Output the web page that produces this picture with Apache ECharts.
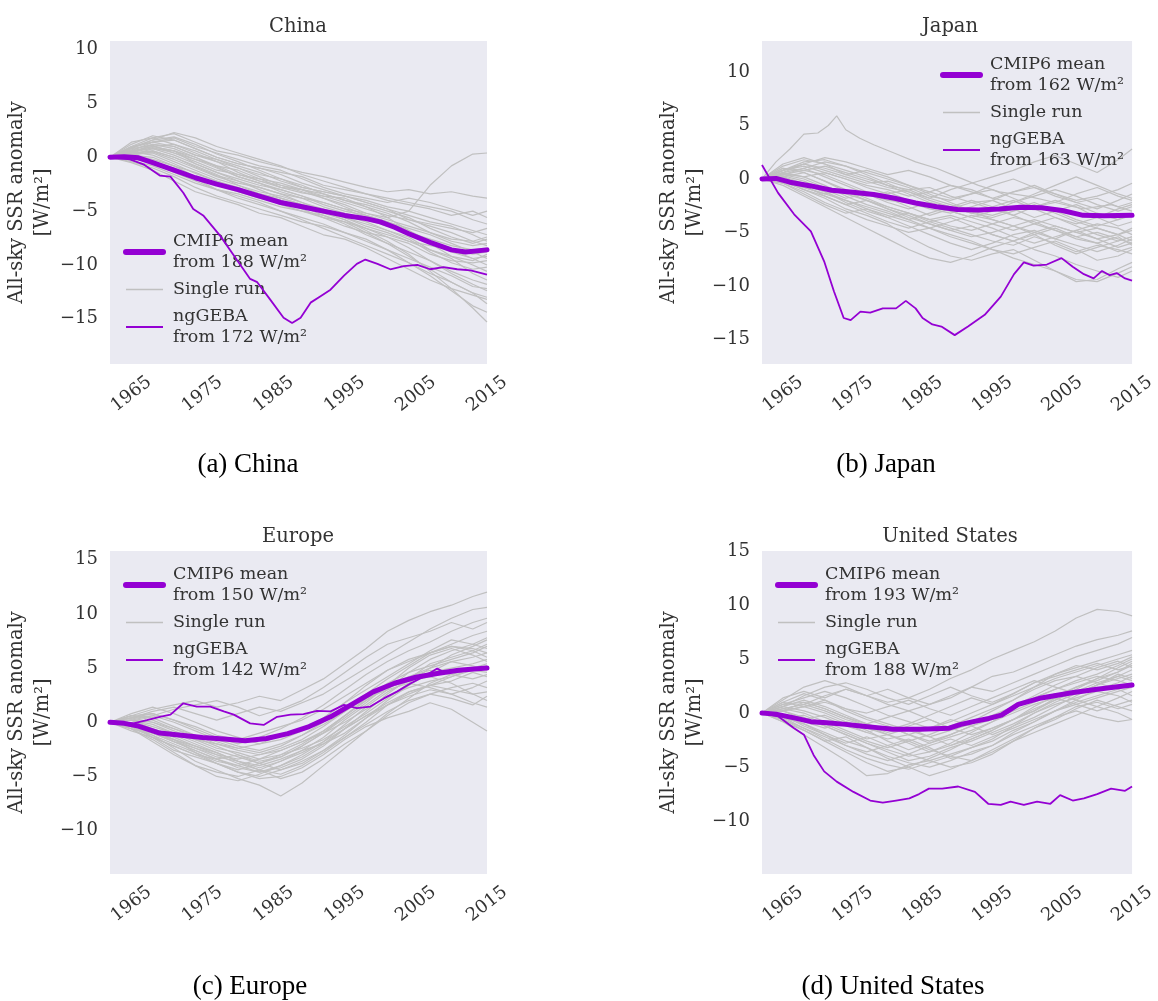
<!DOCTYPE html>
<html><head><meta charset="utf-8">
<script src="https://cdn.jsdelivr.net/npm/echarts@6/dist/echarts.min.js"></script>
<style>html,body{margin:0;padding:0;background:#fff}#c{width:1158px;height:1001px}</style>
</head><body><div id="c"></div>
<script>
// ---------------- DATA ----------------
const xTicks = [1965, 1975, 1985, 1995, 2005, 2015];
const runYears = [1962,1965,1968,1971,1974,1977,1980,1983,1986,1989,1992,1995,1998,2001,2004,2007,2010,2013,2015];

const chinaRuns = [
 [0,0.5,1.0,0.6,-0.6,-1.4,-2.0,-2.6,-3.0,-3.6,-4.2,-4.8,-5.2,-5.6,-5.0,-2.6,-0.8,0.3,0.4],
 [0,1.0,1.8,2.2,1.4,0.6,0.2,-0.4,-0.9,-1.4,-1.8,-2.3,-2.8,-3.2,-3.0,-3.4,-3.2,-3.6,-3.8],
 [0,0.6,1.4,1.6,0.8,0.0,-0.6,-1.0,-1.4,-1.8,-2.6,-3.0,-3.4,-4.0,-4.4,-4.8,-5.4,-5.0,-5.6],
 [0,0.4,0.9,0.4,-0.4,-1.2,-1.6,-2.0,-2.8,-3.3,-3.6,-4.2,-4.8,-5.4,-5.8,-6.2,-6.6,-7.0,-6.6],
 [0,0.2,0.5,-0.2,-1.0,-1.8,-2.4,-2.8,-3.4,-3.8,-4.6,-5.2,-5.8,-6.4,-7.0,-7.6,-8.2,-8.6,-8.4],
 [0,-0.3,-0.8,-1.6,-2.4,-3.0,-3.4,-4.0,-4.6,-5.0,-5.6,-6.0,-6.6,-7.4,-8.4,-9.6,-10.6,-11.4,-11.8],
 [0,0.9,1.6,1.9,1.2,0.3,-0.4,-1.2,-2.0,-2.6,-3.4,-4.0,-4.4,-5.0,-5.6,-6.6,-7.4,-8.0,-7.6],
 [0,0.5,0.2,-0.6,-1.5,-2.2,-2.8,-3.6,-4.4,-5.0,-5.4,-6.0,-7.0,-8.0,-9.2,-10.4,-11.6,-12.6,-13.0],
 [0,-0.2,-0.4,-1.0,-2.0,-3.0,-3.8,-4.4,-5.0,-5.6,-6.2,-7.0,-7.6,-8.6,-9.8,-11.0,-12.4,-13.8,-14.4],
 [0,0.3,0.6,0.0,-0.8,-1.6,-2.6,-3.4,-4.0,-4.6,-5.2,-5.8,-6.8,-7.8,-9.0,-10.6,-12.2,-14.0,-15.3],
 [0,0.7,1.2,0.8,0.0,-0.9,-1.8,-2.4,-3.2,-3.8,-4.2,-4.8,-5.6,-6.2,-7.0,-7.8,-8.8,-9.4,-9.2],
 [0,0.4,0.6,0.0,-0.9,-1.7,-2.2,-2.8,-3.4,-4.2,-4.8,-5.6,-6.2,-6.8,-7.6,-8.8,-9.8,-10.4,-10.2],
 [0,0.1,-0.3,-1.2,-2.0,-2.6,-3.2,-3.8,-4.2,-4.6,-5.4,-6.2,-7.2,-8.0,-8.8,-9.6,-10.8,-11.8,-12.4],
 [0,1.2,2.0,1.6,0.8,0.0,-0.6,-1.0,-1.6,-2.4,-3.0,-3.6,-4.0,-4.6,-5.0,-5.6,-6.2,-6.8,-7.2],
 [0,0.8,1.1,0.4,-0.2,-0.8,-1.2,-2.0,-2.4,-3.0,-3.6,-3.8,-4.6,-5.2,-6.0,-7.0,-7.8,-8.2,-8.0],
 [0,0.2,-0.2,-0.8,-1.4,-2.2,-3.0,-3.4,-4.0,-4.8,-5.6,-6.4,-7.0,-7.4,-8.0,-9.0,-9.6,-9.8,-9.6],
 [0,0.6,1.0,1.2,0.4,-0.4,-1.0,-1.8,-2.6,-3.2,-3.8,-4.6,-5.4,-6.0,-6.8,-8.0,-9.2,-10.0,-10.6],
 [0,-0.4,-1.0,-1.8,-2.8,-3.6,-4.2,-4.8,-5.4,-6.0,-6.4,-7.0,-7.8,-8.6,-9.4,-10.2,-11.0,-12.0,-12.2],
 [0,0.9,1.4,1.0,0.2,-0.4,-1.4,-2.2,-2.8,-3.0,-3.4,-4.0,-4.6,-5.6,-6.8,-7.8,-8.6,-9.0,-8.8],
 [0,0.3,0.4,-0.4,-1.2,-2.0,-2.6,-3.2,-3.6,-4.2,-5.0,-5.8,-6.6,-7.2,-7.8,-8.2,-8.6,-9.4,-10.0],
 [0,1.4,1.8,1.2,0.6,-0.2,-0.8,-1.4,-2.2,-2.8,-3.2,-3.6,-4.2,-4.8,-5.8,-6.4,-7.0,-7.8,-8.2],
 [0,0.2,0.8,0.6,-0.2,-1.0,-1.8,-2.4,-3.0,-3.6,-4.4,-5.0,-5.4,-6.0,-6.6,-7.2,-8.0,-8.8,-9.4],
 [0,-0.1,-0.5,-1.4,-2.2,-3.0,-3.6,-4.2,-5.0,-5.8,-6.6,-7.4,-8.2,-9.0,-9.8,-10.8,-11.6,-12.6,-13.6],
 [0,0.5,1.0,0.6,0.0,-0.8,-1.6,-2.2,-2.6,-3.0,-3.8,-4.4,-5.2,-5.8,-6.4,-7.0,-7.6,-7.8,-7.4],
 [0,0.8,1.6,2.3,1.8,1.0,0.4,-0.2,-0.8,-1.6,-2.2,-2.8,-3.4,-3.8,-4.2,-4.6,-5.0,-5.8,-6.2],
 [0,-0.5,-1.2,-2.2,-3.2,-3.8,-4.4,-5.2,-5.6,-6.4,-7.2,-7.6,-8.4,-9.4,-10.4,-11.4,-12.2,-12.8,-13.2],
 [0,0.4,1.2,1.0,0.2,-0.2,-1.0,-1.6,-2.0,-2.8,-3.2,-3.6,-4.2,-4.8,-5.4,-6.0,-6.4,-7.2,-7.8],
 [0,0.2,0.0,-0.8,-1.8,-2.4,-3.0,-3.4,-3.8,-4.4,-4.8,-5.4,-6.0,-6.8,-7.4,-8.6,-9.2,-9.6,-9.0],
 [0,1.0,1.4,1.8,1.0,0.4,-0.2,-0.8,-1.2,-2.0,-2.8,-3.4,-3.8,-4.2,-3.8,-4.2,-4.8,-5.4,-5.0],
 [0,0.6,0.8,0.2,-0.6,-1.4,-2.2,-3.0,-3.8,-4.4,-5.0,-5.6,-6.4,-7.0,-7.8,-8.6,-9.4,-10.8,-11.4]
];
const chinaMeanYears = [1962,1964,1966,1968,1971,1974,1977,1980,1983,1986,1989,1992,1995,1998,2000,2002,2004,2007,2010,2012,2015];
const chinaMeanValues = [0,0.05,-0.05,-0.5,-1.2,-1.9,-2.5,-3.0,-3.6,-4.2,-4.6,-5.0,-5.4,-5.7,-6.0,-6.5,-7.1,-7.9,-8.6,-8.8,-8.6];
const chinaGebaYears = [1962,1964.8,1966.7,1969,1970.5,1972.3,1973.7,1975.1,1977.5,1979.8,1981.7,1982.7,1984.5,1986.4,1987.6,1988.8,1990.2,1991.6,1993,1994.9,1996.7,1997.9,1999.6,2001.4,2003.3,2005.2,2007,2008.9,2010.8,2012.7,2015];
const chinaGebaValues = [0,-0.2,-0.65,-1.7,-1.8,-3.3,-4.8,-5.4,-7.3,-9.5,-11.3,-11.6,-13.2,-14.9,-15.4,-14.9,-13.5,-12.9,-12.3,-11.0,-9.9,-9.5,-9.9,-10.4,-10.1,-10.0,-10.4,-10.2,-10.4,-10.5,-10.9];

const japanRuns = [
 [0,0.8,1.4,1.0,0.4,-0.2,-0.8,-1.2,-1.8,-1.0,-0.4,0.2,0.8,1.6,2.2,1.4,0.6,1.8,2.8],
 [0,1.2,1.8,1.4,0.8,0.2,-0.6,-1.0,-0.8,-1.6,-2.2,-2.0,-1.2,-0.8,-1.4,-2.0,-1.6,-1.0,-0.4],
 [0,0.4,0.0,-0.8,-1.4,-2.0,-2.6,-3.2,-3.8,-4.4,-4.8,-4.2,-3.6,-4.0,-4.8,-5.4,-5.0,-5.6,-6.0],
 [0,-0.6,-1.6,-2.6,-3.6,-4.6,-5.6,-6.6,-7.4,-7.8,-7.2,-6.4,-5.8,-5.0,-4.4,-5.0,-5.6,-5.2,-4.8],
 [0,-0.2,-1.0,-1.8,-2.8,-3.4,-4.2,-5.4,-6.4,-7.2,-7.6,-7.0,-6.6,-7.6,-8.6,-9.4,-9.6,-8.8,-8.2],
 [0,0.6,1.0,0.2,-0.6,-1.4,-2.0,-2.2,-2.8,-3.2,-2.6,-2.0,-2.8,-3.6,-3.0,-2.4,-3.2,-3.8,-3.4],
 [0,1.0,0.6,-0.2,-1.0,-1.6,-1.2,-2.0,-2.6,-3.0,-3.6,-4.2,-4.8,-4.2,-3.6,-4.4,-5.2,-5.8,-5.4],
 [0,0.2,-0.6,-1.2,-2.2,-3.0,-3.6,-3.2,-4.0,-4.6,-5.2,-5.8,-6.2,-5.4,-6.0,-6.8,-6.2,-6.6,-7.0],
 [0,0.8,1.6,1.8,1.2,0.6,0.0,-0.6,-1.2,-1.8,-1.4,-0.6,0.0,-0.8,-1.6,-2.2,-2.8,-2.0,-1.4],
 [0,-0.4,-1.2,-2.2,-3.0,-3.8,-4.4,-5.0,-4.6,-4.0,-3.4,-3.8,-4.4,-5.0,-5.6,-4.8,-4.2,-4.6,-5.2],
 [0,0.4,0.8,0.4,-0.4,-1.2,-1.8,-2.6,-3.4,-2.8,-2.2,-2.8,-3.4,-2.6,-2.0,-2.6,-3.6,-4.4,-4.0],
 [0,0.6,0.2,-0.6,-1.6,-2.4,-3.0,-3.8,-4.6,-5.4,-6.0,-6.6,-7.0,-6.4,-5.8,-6.6,-7.6,-7.2,-6.6],
 [0,1.4,2.0,1.4,0.4,0.8,0.2,-0.6,-1.4,-2.2,-3.0,-3.4,-2.8,-2.2,-3.0,-3.8,-4.4,-3.8,-3.2],
 [0,-0.2,-0.8,-1.4,-1.0,-1.8,-2.6,-3.2,-3.8,-3.4,-4.0,-4.6,-5.4,-6.0,-5.4,-4.8,-5.6,-6.4,-6.0],
 [0,0.3,-0.2,-1.0,-1.8,-1.4,-2.2,-2.8,-2.2,-2.6,-3.2,-2.6,-2.0,-2.8,-3.6,-4.2,-3.6,-2.8,-2.4],
 [0,0.8,1.2,0.6,0.0,-0.8,-1.4,-1.0,-1.8,-2.4,-3.0,-3.8,-4.4,-3.8,-4.4,-5.0,-4.6,-5.2,-5.8],
 [0,-0.4,-1.4,-2.4,-3.2,-2.8,-3.6,-4.4,-5.2,-6.0,-6.6,-6.0,-5.2,-4.8,-5.6,-6.2,-6.8,-6.2,-5.6],
 [0,0.6,1.4,2.0,1.6,1.0,0.4,0.8,0.2,-0.6,-1.2,-1.8,-1.2,-0.6,-1.4,-2.2,-1.8,-2.6,-2.2],
 [0,0.2,0.6,-0.2,-1.2,-2.0,-2.8,-3.6,-4.2,-4.8,-5.4,-5.0,-4.4,-5.2,-6.2,-7.0,-6.4,-5.8,-5.4],
 [0,0.5,0.2,0.6,0.0,-0.6,-1.0,-1.6,-1.2,-0.6,-1.0,-1.8,-2.2,-1.6,-1.0,-1.6,-2.4,-3.0,-2.6],
 [0,-0.2,-0.6,-1.6,-2.4,-3.2,-4.0,-4.6,-4.0,-3.6,-4.4,-5.2,-5.8,-6.6,-7.2,-8.0,-8.6,-9.2,-8.6],
 [0,0.4,1.0,1.6,1.2,0.4,-0.4,-1.2,-2.0,-2.6,-3.2,-3.6,-3.0,-2.4,-3.2,-4.0,-4.6,-5.2,-4.6],
 [0,-0.4,-0.8,-1.4,-2.0,-2.6,-3.2,-3.8,-3.2,-2.6,-2.0,-2.6,-3.4,-4.2,-4.8,-5.6,-6.0,-5.4,-6.2],
 [0,0.8,1.4,0.8,0.2,-0.4,-0.2,-0.8,-1.6,-2.0,-1.4,-1.0,-1.8,-2.6,-2.2,-1.4,-0.8,-1.6,-2.0],
 [0,0.2,-0.4,-1.2,-2.0,-2.8,-3.4,-4.0,-4.6,-5.2,-5.8,-6.6,-7.4,-8.0,-8.6,-9.6,-9.4,-8.4,-7.8],
 [0,1.0,0.8,1.2,0.6,0.0,-0.6,-1.4,-2.2,-3.0,-3.6,-3.0,-2.2,-1.4,-0.6,0.2,-0.6,-1.4,-1.8],
 [0,-0.2,-1.0,-1.6,-2.4,-2.0,-2.8,-3.4,-4.2,-4.8,-4.4,-5.2,-5.8,-5.2,-4.6,-5.4,-6.0,-6.8,-6.4]
];
// the one Japanese run that peaks near +6 in the early 1970s
const japanPeakRunYears = [1962,1964,1966,1968,1970,1971.5,1972.7,1974,1976,1978,1981,1984,1987,1990,1993,1996,2000,2004,2008,2012,2015];
const japanPeakRunValues = [0,1.6,2.8,4.2,4.3,5.0,5.9,4.6,3.8,3.2,2.4,1.6,1.0,0.2,-0.6,-1.2,-1.6,-2.2,-2.8,-2.4,-3.0];
const japanMeanYears = [1962,1964,1966,1969,1972,1975,1978,1981,1984,1987,1990,1993,1996,1999,2002,2005,2008,2011,2015];
const japanMeanValues = [0,0.05,-0.3,-0.65,-1.05,-1.25,-1.45,-1.8,-2.25,-2.6,-2.85,-2.9,-2.8,-2.65,-2.7,-2.95,-3.4,-3.45,-3.4];
const japanGebaYears = [1962,1964.3,1966.6,1969,1970.9,1972.3,1973.7,1974.7,1976.1,1977.5,1979.3,1981.2,1982.6,1984,1985,1986.4,1987.7,1989.6,1991.5,1993.9,1996.2,1998.1,1999.5,2000.9,2002.8,2004.9,2006.5,2008.1,2009.5,2010.7,2011.8,2012.8,2014,2015];
const japanGebaValues = [1.3,-1.3,-3.3,-4.9,-7.7,-10.5,-13.0,-13.2,-12.4,-12.5,-12.1,-12.1,-11.4,-12.1,-13.0,-13.6,-13.8,-14.6,-13.8,-12.7,-11.0,-8.9,-7.8,-8.1,-8.0,-7.4,-8.2,-8.9,-9.3,-8.6,-9.0,-8.8,-9.3,-9.5];

const europeRuns = [
 [0,0.6,1.2,1.6,2.0,1.4,1.8,2.4,2.0,3.0,4.0,5.4,6.8,8.4,9.4,10.2,10.8,11.6,12.0],
 [0,-0.4,-1.2,-2.4,-3.6,-4.4,-5.2,-5.8,-6.8,-5.6,-4.0,-2.4,-0.8,0.8,2.2,3.6,4.4,5.0,5.4],
 [0,0.2,-0.6,-1.4,-2.2,-3.0,-3.4,-3.0,-2.4,-1.6,-0.4,1.0,2.6,4.0,5.2,6.4,7.0,6.6,7.2],
 [0,-0.6,-1.6,-2.8,-4.0,-5.0,-5.4,-4.8,-4.0,-3.2,-2.0,-0.6,0.6,1.6,2.4,3.0,2.6,3.2,3.8],
 [0,0.4,0.8,0.2,-0.6,-1.4,-2.0,-1.4,-0.6,0.4,1.6,3.0,4.4,5.6,6.6,7.4,8.4,9.2,9.6],
 [0,-0.2,-0.8,-1.8,-2.6,-3.4,-4.2,-4.6,-4.0,-3.0,-1.8,-0.2,1.4,2.8,3.8,4.6,5.0,5.4,5.8],
 [0,0.8,1.4,0.8,0.0,-0.8,-1.4,-2.0,-1.6,-0.8,0.4,1.8,3.4,4.8,5.8,6.4,7.0,6.8,6.4],
 [0,-0.8,-1.4,-2.2,-3.0,-3.8,-4.6,-5.2,-5.0,-4.2,-3.0,-1.6,-0.4,0.4,1.0,1.8,1.2,0.0,-0.8],
 [0,0.2,0.0,-0.8,-1.6,-2.4,-2.8,-3.4,-3.0,-2.0,-0.8,0.6,2.0,3.4,4.2,4.8,4.4,4.0,4.4],
 [0,-0.4,-1.0,-1.6,-2.2,-2.8,-3.6,-4.2,-3.6,-2.6,-1.4,0.2,1.6,3.0,4.6,5.8,6.6,7.2,6.8],
 [0,0.6,0.4,-0.4,-1.2,-1.8,-2.4,-2.8,-2.2,-1.2,0.0,1.4,2.4,3.2,3.8,4.2,3.6,2.6,2.0],
 [0,-0.2,-1.4,-2.6,-3.2,-3.8,-4.4,-3.8,-3.0,-2.4,-1.6,-0.4,0.8,2.2,3.6,5.0,6.2,7.0,7.6],
 [0,0.4,1.0,1.4,0.8,0.2,0.8,1.4,1.0,1.8,2.6,3.8,5.0,6.2,7.4,8.6,9.6,10.4,10.6],
 [0,-0.6,-1.2,-2.0,-2.8,-3.6,-4.0,-3.4,-2.6,-1.8,-1.0,0.0,1.2,2.4,3.2,3.8,4.2,5.0,5.2],
 [0,0.2,-0.4,-1.0,-1.8,-2.6,-3.2,-3.8,-3.2,-2.2,-1.0,0.4,1.8,3.4,5.0,6.2,6.8,6.2,5.6],
 [0,-0.4,-0.8,-1.6,-2.4,-3.2,-3.6,-4.4,-4.8,-4.0,-2.8,-1.4,0.0,1.6,2.8,3.4,3.0,2.6,2.8],
 [0,0.6,0.8,0.2,-0.4,-1.2,-1.6,-1.0,-0.4,0.2,1.2,2.4,3.6,4.8,5.6,6.4,7.2,8.0,8.4],
 [0,-0.2,-0.6,-1.2,-2.0,-2.8,-3.6,-4.0,-3.4,-2.6,-2.0,-1.0,0.4,2.0,3.4,4.6,5.6,6.0,6.4],
 [0,0.2,-0.2,-1.0,-1.6,-2.0,-2.6,-3.0,-2.6,-1.8,-0.8,0.6,2.2,3.6,4.6,5.2,5.8,6.4,7.0],
 [0,-0.6,-1.8,-3.0,-4.0,-4.6,-5.0,-4.4,-3.6,-2.8,-1.8,-0.6,0.6,1.8,2.8,3.4,3.8,4.6,4.2],
 [0,0.4,0.6,0.0,-0.8,-1.6,-2.2,-2.6,-2.0,-1.2,-0.2,1.0,2.2,3.0,3.6,3.2,2.6,1.8,1.4],
 [0,-0.2,-1.0,-1.8,-2.6,-3.4,-4.0,-4.6,-4.2,-3.4,-2.2,-0.6,1.0,2.6,4.0,5.4,6.0,6.6,6.0],
 [0,0.2,0.6,1.2,1.6,2.0,1.4,0.6,1.2,2.0,3.2,4.6,6.0,7.2,7.8,8.4,9.2,8.6,9.2],
 [0,-0.4,-1.4,-2.2,-3.0,-3.4,-3.0,-3.8,-4.4,-3.8,-2.6,-1.2,0.4,1.6,2.6,3.4,4.2,4.8,4.6],
 [0,0.6,0.2,-0.6,-1.4,-2.2,-3.0,-3.6,-3.2,-2.2,-1.0,0.6,2.0,3.2,4.2,5.0,5.6,5.2,4.8],
 [0,-0.2,-0.8,-1.6,-2.8,-3.8,-4.6,-5.0,-4.4,-3.6,-2.6,-1.4,-0.2,1.0,2.0,2.6,3.2,3.6,3.2],
 [0,0.4,0.0,-0.6,-1.2,-2.0,-2.4,-2.0,-1.2,-0.6,0.4,1.8,3.0,4.2,5.4,6.6,7.6,7.2,7.8],
 [0,-0.6,-1.0,-1.8,-2.4,-3.0,-3.8,-4.4,-5.2,-4.6,-3.4,-2.0,-0.8,0.6,1.8,2.6,2.2,1.6,2.4]
];
const europeMeanYears = [1962,1964,1966,1969,1972,1975,1978,1981,1984,1987,1990,1993,1996,1999,2002,2005,2008,2011,2015];
const europeMeanValues = [0,-0.1,-0.35,-1.0,-1.2,-1.4,-1.55,-1.7,-1.5,-1.05,-0.4,0.5,1.65,2.8,3.6,4.15,4.5,4.8,5.0];
const europeGebaYears = [1962,1965.3,1967.2,1969,1970.5,1972.3,1974.2,1976.1,1978,1979.4,1981.7,1983.6,1985.5,1987.4,1989.2,1991.1,1993,1994.9,1996.7,1998.6,2000.5,2002.4,2004.3,2006.1,2008,2009,2011.3,2013,2015];
const europeGebaValues = [0,-0.1,0.2,0.5,0.7,1.75,1.45,1.45,1.0,0.7,-0.1,-0.25,0.5,0.7,0.75,1.05,1.0,1.6,1.3,1.45,2.2,2.85,3.6,4.2,4.95,4.6,4.7,4.85,5.0];

const usRuns = [
 [0,0.4,0.8,1.6,2.2,1.6,1.0,1.4,2.2,3.2,4.0,5.0,5.8,6.6,7.6,8.8,9.6,9.4,9.0],
 [0,1.2,2.4,3.0,2.4,1.6,2.2,1.4,0.8,1.4,2.4,3.4,3.8,4.6,5.4,6.2,6.8,7.2,7.6],
 [0,-0.6,-1.6,-2.6,-3.6,-4.6,-5.4,-5.0,-4.2,-3.4,-2.4,-1.6,-0.6,0.4,1.2,2.0,2.8,3.4,4.0],
 [0,0.6,1.2,0.6,-0.2,-1.0,-1.6,-1.0,-0.2,0.6,1.4,0.8,1.8,2.8,3.6,4.4,4.0,4.6,5.2],
 [0,-0.8,-2.0,-3.2,-4.4,-5.8,-5.6,-4.8,-4.4,-5.0,-4.6,-3.8,-2.6,-1.4,-0.6,0.4,1.2,0.6,0.2],
 [0,0.2,-0.4,-1.2,-2.0,-2.8,-3.4,-4.0,-3.6,-2.8,-1.8,-0.8,0.4,1.4,2.2,2.8,3.4,3.0,2.6],
 [0,1.0,1.8,1.2,0.4,0.0,0.6,1.2,0.4,-0.2,0.6,1.4,2.2,3.0,2.4,1.8,2.6,3.2,3.6],
 [0,-0.4,-1.0,-1.8,-2.6,-3.2,-4.0,-4.6,-5.0,-4.4,-3.6,-3.0,-2.0,-1.2,-0.4,0.2,-0.4,-0.8,-0.6],
 [0,0.4,0.0,-0.8,-1.6,-2.4,-2.0,-1.4,-2.2,-3.0,-2.4,-1.6,-0.6,0.6,1.6,2.4,3.0,3.8,4.6],
 [0,-0.2,-0.8,-1.4,-0.8,-1.6,-2.6,-3.4,-2.8,-2.0,-1.2,-0.6,0.2,1.0,1.8,1.2,0.6,1.4,2.0],
 [0,0.8,1.4,2.0,1.4,0.6,-0.2,-0.8,-1.4,-0.8,0.0,0.8,1.6,2.4,3.2,3.8,4.4,5.0,5.4],
 [0,-0.6,-1.4,-2.2,-3.0,-3.8,-4.4,-3.8,-3.0,-2.4,-3.0,-2.2,-1.4,-0.6,0.2,1.0,1.6,2.2,1.6],
 [0,0.2,0.6,0.0,-0.8,-1.4,-2.0,-2.6,-2.0,-1.2,-0.4,0.4,1.2,2.2,3.0,3.4,2.8,2.2,2.8],
 [0,-0.2,-1.2,-2.0,-2.8,-2.2,-3.0,-3.8,-4.4,-3.8,-3.2,-2.4,-1.2,0.0,1.0,1.8,2.6,3.4,3.0],
 [0,0.6,0.2,-0.4,-1.2,-1.8,-1.2,-2.0,-2.8,-2.2,-1.6,-0.8,0.0,0.8,1.4,0.8,0.2,0.8,1.2],
 [0,1.4,2.0,1.4,2.2,1.6,0.8,0.2,0.8,1.6,2.4,2.0,2.8,3.6,4.4,5.2,5.8,6.4,7.0],
 [0,-0.4,-1.4,-2.4,-3.4,-4.2,-4.8,-5.2,-4.6,-4.0,-3.2,-2.6,-1.6,-0.8,0.2,0.8,1.4,2.0,2.4],
 [0,0.4,0.8,0.2,-0.6,-1.2,-1.8,-1.2,-0.6,-1.4,-2.0,-1.4,-0.6,0.2,1.2,2.2,3.2,4.2,4.8],
 [0,-0.6,-0.2,-1.0,-1.8,-2.6,-3.2,-2.6,-3.4,-4.0,-4.4,-3.6,-2.6,-1.8,-1.0,-0.2,0.6,0.0,-0.6],
 [0,0.2,0.6,1.0,0.4,-0.4,-1.0,-1.6,-2.2,-1.6,-1.0,-0.2,0.6,1.6,2.6,3.4,4.2,4.8,4.2],
 [0,-0.2,-0.6,-1.2,-2.0,-2.8,-3.6,-4.4,-4.0,-3.2,-2.6,-1.8,-1.0,0.0,0.8,1.4,2.0,1.6,1.0],
 [0,0.8,1.0,0.4,-0.4,-1.0,-0.4,0.2,-0.6,-1.4,-0.8,0.2,1.2,2.4,3.6,4.2,4.8,5.4,5.8],
 [0,0.6,1.6,2.4,2.8,2.2,1.4,0.8,1.6,2.4,1.6,1.0,1.8,2.8,3.4,4.0,4.6,4.0,4.4],
 [0,-0.4,-1.0,-2.0,-3.0,-3.6,-3.0,-2.4,-3.2,-4.2,-3.8,-3.0,-1.8,-0.8,0.2,1.2,2.2,2.8,3.4],
 [0,0.2,-0.6,-0.2,-1.0,-1.8,-2.4,-2.0,-1.4,-0.6,-1.2,-0.4,0.6,1.4,2.2,3.0,3.6,4.4,5.0],
 [0,-0.8,-1.6,-2.6,-2.2,-3.2,-4.2,-5.0,-5.8,-5.2,-4.4,-3.4,-2.4,-1.4,-0.4,0.6,1.0,0.4,0.8],
 [0,1.0,0.6,1.2,0.2,-0.6,-1.2,-2.0,-2.6,-2.0,-1.2,-2.0,-1.2,-0.4,0.6,1.6,2.6,3.6,3.2],
 [0,0.2,1.0,0.4,-0.4,-1.2,-2.0,-2.8,-3.6,-3.0,-2.2,-1.4,-0.6,0.2,1.4,2.4,3.2,3.8,4.4]
];
const usMeanYears = [1962,1964,1966.6,1969,1971.3,1974,1976.1,1978.5,1980.8,1984.6,1988.8,1990.5,1992.6,1994.5,1996.3,1998.7,2002,2006.6,2010,2015];
const usMeanValues = [0,-0.1,-0.45,-0.8,-0.9,-1.05,-1.2,-1.35,-1.5,-1.5,-1.4,-1.05,-0.75,-0.5,-0.2,0.8,1.4,1.9,2.2,2.6];
const usGebaYears = [1962,1964.3,1966.6,1968,1969.4,1970.9,1972.7,1975.1,1977.5,1979.3,1981.2,1983.1,1984.5,1985.9,1987.8,1990.1,1992.5,1994.4,1996.2,1997.6,1999.5,2001.4,2003.3,2004.7,2006.5,2008.1,2010,2012,2014,2015];
const usGebaValues = [0,-0.3,-1.4,-2.0,-3.9,-5.4,-6.35,-7.3,-8.1,-8.3,-8.1,-7.9,-7.5,-7.0,-7.0,-6.8,-7.3,-8.4,-8.5,-8.2,-8.5,-8.2,-8.4,-7.6,-8.1,-7.9,-7.5,-7.0,-7.2,-6.8];

const panelTitles = ['China', 'Japan', 'Europe', 'United States'];
const captions = ['(a) China', '(b) Japan', '(c) Europe', '(d) United States'];
const meanBase = [188, 162, 150, 193];
const gebaBase = [172, 163, 142, 188];
const yTicksTop = [-15, -10, -5, 0, 5, 10];
const yTicksBottom = [-10, -5, 0, 5, 10, 15];

// ---------------- LAYOUT / STYLE ----------------
const SERIF = 'DejaVu Serif';
const TXT = '#333333';
const PURPLE = '#9400D3';
const GRAY = '#C0C0C0';
const layout = [
  {left: 110, top: 41, ymin: -19.2, ymax: 10.8, ticks: yTicksTop, legend: {left: 123, top: 231}, titleX: 298, titleY: 27, capX: 248, capY: 465},
  {left: 762, top: 41, ymin: -17.3, ymax: 12.9, ticks: yTicksTop, legend: {left: 940, top: 54}, titleX: 950, titleY: 27, capX: 886, capY: 465},
  {left: 110, top: 551, ymin: -14.0, ymax: 15.8, ticks: yTicksBottom, legend: {left: 123, top: 564}, titleX: 298, titleY: 537, capX: 250, capY: 987},
  {left: 762, top: 551, ymin: -14.9, ymax: 15.0, ticks: yTicksBottom, legend: {left: 775, top: 564}, titleX: 950, titleY: 537, capX: 893, capY: 987}
];
const PW = 377, PH = 323;

const runsAll = [chinaRuns, japanRuns, europeRuns, usRuns];
const extraRuns = [[], [[japanPeakRunYears, japanPeakRunValues]], [], []];
const meanAll = [[chinaMeanYears, chinaMeanValues], [japanMeanYears, japanMeanValues], [europeMeanYears, europeMeanValues], [usMeanYears, usMeanValues]];
const gebaAll = [[chinaGebaYears, chinaGebaValues], [japanGebaYears, japanGebaValues], [europeGebaYears, europeGebaValues], [usGebaYears, usGebaValues]];

const zip = (xs, ys) => xs.map((x, i) => [x, ys[i]]);
const fmtMinus = v => (v < 0 ? '\u2212' + Math.abs(v) : String(v));
const grayLine = (p, data) => ({type: 'line', name: 'Single run', xAxisIndex: p, yAxisIndex: p, data,
  symbol: 'none', silent: true, z: 2, lineStyle: {color: GRAY, width: 1.2}, itemStyle: {color: GRAY}});

const grid = [], xAxis = [], yAxis = [], series = [], legend = [], graphic = [];
layout.forEach((L, p) => {
  grid.push({left: L.left, top: L.top, width: PW, height: PH, show: true, backgroundColor: '#EAEAF2', borderWidth: 0, containLabel: false});
  xAxis.push({
    type: 'value', gridIndex: p, min: 1962, max: 2015,
    axisLine: {show: false}, axisTick: {show: false}, splitLine: {show: false},
    axisLabel: {customValues: xTicks, rotate: 38, align: 'center', verticalAlign: 'middle', margin: 30,
      fontFamily: SERIF, fontSize: 18, color: TXT, formatter: v => String(v)}
  });
  yAxis.push({
    type: 'value', gridIndex: p, min: L.ymin, max: L.ymax,
    axisLine: {show: false}, axisTick: {show: false}, splitLine: {show: false},
    axisLabel: {customValues: L.ticks, margin: 12, fontFamily: SERIF, fontSize: 18, color: TXT, formatter: fmtMinus},
    name: 'All-sky SSR anomaly\n[W/m\u00B2]', nameLocation: 'middle', nameGap: 49,
    nameTextStyle: {fontFamily: SERIF, fontSize: 19.5, color: TXT, lineHeight: 26}
  });
  runsAll[p].forEach(run => series.push(grayLine(p, zip(runYears, run))));
  extraRuns[p].forEach(r => series.push(grayLine(p, zip(r[0], r[1]))));
  const meanName = 'CMIP6 mean\nfrom ' + meanBase[p] + ' W/m\u00B2';
  const gebaName = 'ngGEBA\nfrom ' + gebaBase[p] + ' W/m\u00B2';
  series.push({type: 'line', name: meanName, xAxisIndex: p, yAxisIndex: p, data: zip(meanAll[p][0], meanAll[p][1]),
    symbol: 'none', silent: true, z: 3, lineStyle: {color: PURPLE, width: 5, join: 'round', cap: 'round'}, itemStyle: {color: PURPLE}});
  series.push({type: 'line', name: gebaName, xAxisIndex: p, yAxisIndex: p, data: zip(gebaAll[p][0], gebaAll[p][1]),
    symbol: 'none', silent: true, z: 4, lineStyle: {color: PURPLE, width: 1.8}, itemStyle: {color: PURPLE}});
  const hidden = {opacity: 0, color: 'rgba(0,0,0,0)', borderWidth: 0};
  legend.push({
    orient: 'vertical', left: L.legend.left, top: L.legend.top, padding: 0, itemGap: 6,
    itemWidth: 37, itemHeight: 14, selectedMode: false,
    textStyle: {fontFamily: SERIF, fontSize: 17.5, color: TXT, lineHeight: 21, padding: [0, 0, 0, 5]},
    data: [
      {name: meanName, lineStyle: {width: 6, color: PURPLE}, itemStyle: hidden},
      {name: 'Single run', lineStyle: {width: 1.5, color: GRAY}, itemStyle: hidden},
      {name: gebaName, lineStyle: {width: 2, color: PURPLE}, itemStyle: hidden}
    ]
  });
  graphic.push({type: 'text', x: L.titleX, y: L.titleY, silent: true,
    style: {text: panelTitles[p], align: 'center', verticalAlign: 'middle', fontFamily: SERIF, fontSize: 19.5, fill: TXT}});
  graphic.push({type: 'text', x: L.capX, y: L.capY, silent: true,
    style: {text: captions[p], align: 'center', verticalAlign: 'middle', fontFamily: 'Liberation Serif', fontSize: 27, fill: '#000'}});
});

const chart = echarts.init(document.getElementById('c'), null, {renderer: 'canvas'});
chart.setOption({animation: false, backgroundColor: '#ffffff', grid, xAxis, yAxis, series, legend, graphic});
</script>
</body></html>
